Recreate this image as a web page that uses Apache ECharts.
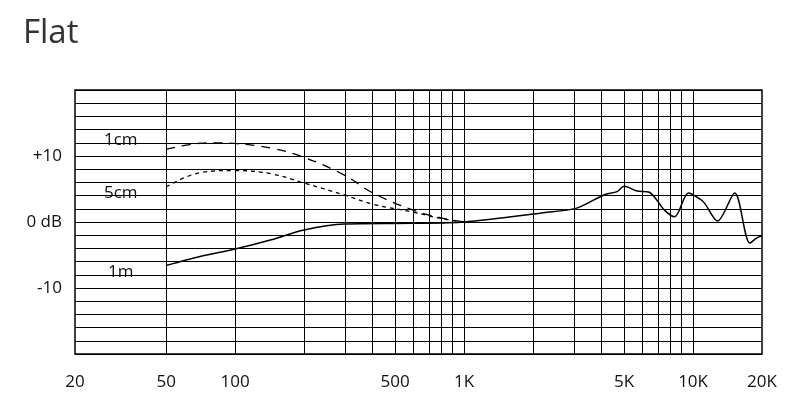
<!DOCTYPE html>
<html>
<head>
<meta charset="utf-8">
<script src="https://cdn.jsdelivr.net/npm/echarts@6/dist/echarts.min.js"></script>
<style>html,body{margin:0;background:#fff}#main{width:802px;height:414px}</style>
</head>
<body>
<div id="main"></div>
<script>
// 频率刻度与网格线
var tick_freqs = [20, 50, 100, 500, 1000, 5000, 10000, 20000];
var tick_names = ["20", "50", "100", "500", "1K", "5K", "10K", "20K"];
var grid_freqs = [50, 100, 200, 300, 400, 500, 600, 700, 800, 900, 1000, 2000, 3000, 4000, 5000, 6000, 7000, 8000, 9000, 10000];

// 1cm 曲线
var f_1cm = [50, 65, 83, 100, 144, 200, 300, 400, 600, 800, 1000];
var db_1cm = [11, 11.8, 12, 11.9, 11.2, 9.8, 7.1, 4.4, 1.8, 0.6, 0];
// 5cm 曲线
var f_5cm = [50, 71, 100, 144, 200, 300, 400, 600, 800, 1000];
var db_5cm = [5.3, 7.5, 7.8, 7.3, 5.9, 4.1, 2.7, 1.5, 0.5, 0];
// 1m 曲线
var f_1m = [50, 71, 100, 144, 200, 300, 600, 1000, 2220, 3100, 4080, 4660, 5000, 5700, 6440, 7500, 8300, 9550, 10700, 11200, 12800, 15200, 17700, 19000, 20000];
var db_1m = [-6.6, -5.2, -4.1, -2.7, -1.2, -0.3, -0.2, 0, 1.4, 2.1, 4.1, 4.6, 5.4, 4.7, 4.5, 1.8, 0.8, 4.4, 3.5, 2.9, 0.15, 4.4, -3.2, -2.4, -2.1];

function pts(f, d){
    var out = [];
    for (var i = 0; i < f.length; i++) out.push([Math.log10(f[i]), d[i]]);
    return out;
}

var chart = echarts.init(document.getElementById("main"));
var vlines = grid_freqs.map(function(f){ return {xAxis: Math.log10(f)}; });
var lab = {fontFamily: "Open Sans", fontSize: 17, color: "#111"};

chart.setOption({
    animation: false,
    title: {text: "Flat", left: 18, top: 12, textStyle: {fontFamily: "Open Sans", fontSize: 33, fontWeight: "normal", color: "#333"}},
    grid: {left: 75, right: 40, top: 90, bottom: 60, show: true, borderColor: "#000", borderWidth: 1.5},
    xAxis: {
        type: "value", min: Math.log10(20), max: Math.log10(20000),
        splitLine: {show: false}, axisTick: {show: false}, axisLine: {show: false},
        axisLabel: Object.assign({
            customValues: tick_freqs.map(function(f){ return Math.log10(f); }),
            margin: 20,
            formatter: function(v){
                for (var i = 0; i < tick_freqs.length; i++)
                    if (Math.abs(Math.log10(tick_freqs[i]) - v) < 1e-6) return tick_names[i];
                return "";
            }
        }, lab)
    },
    yAxis: {
        type: "value", min: -20, max: 20, interval: 2,
        axisLine: {show: false}, axisTick: {show: false},
        splitLine: {lineStyle: {color: "#000", width: 1}},
        axisLabel: Object.assign({
            margin: 13,
            formatter: function(v){
                if (v === 10) return "+10";
                if (v === 0) return "0 dB";
                if (v === -10) return "-10";
                return "";
            }
        }, lab)
    },
    graphic: [
        {type: "text", left: 104, top: 132, style: {text: "1cm", font: "17px 'Open Sans'", fill: "#111"}},
        {type: "text", left: 104, top: 185, style: {text: "5cm", font: "17px 'Open Sans'", fill: "#111"}},
        {type: "text", left: 108, top: 264, style: {text: "1m", font: "17px 'Open Sans'", fill: "#111"}}
    ],
    series: [
        {type: "line", data: [], silent: true,
         markLine: {symbol: "none", silent: true, label: {show: false}, lineStyle: {color: "#000", type: "solid", width: 1}, data: vlines}},
        {type: "line", data: pts(f_1cm, db_1cm), smooth: 0.4, showSymbol: false, lineStyle: {color: "#000", width: 1.3, type: [9, 7]}},
        {type: "line", data: pts(f_5cm, db_5cm), smooth: 0.4, showSymbol: false, lineStyle: {color: "#000", width: 1.3, type: [4, 4]}},
        {type: "line", data: pts(f_1m, db_1m), smooth: 0.3, showSymbol: false, lineStyle: {color: "#000", width: 1.5}}
    ]
});
</script>
</body>
</html>
